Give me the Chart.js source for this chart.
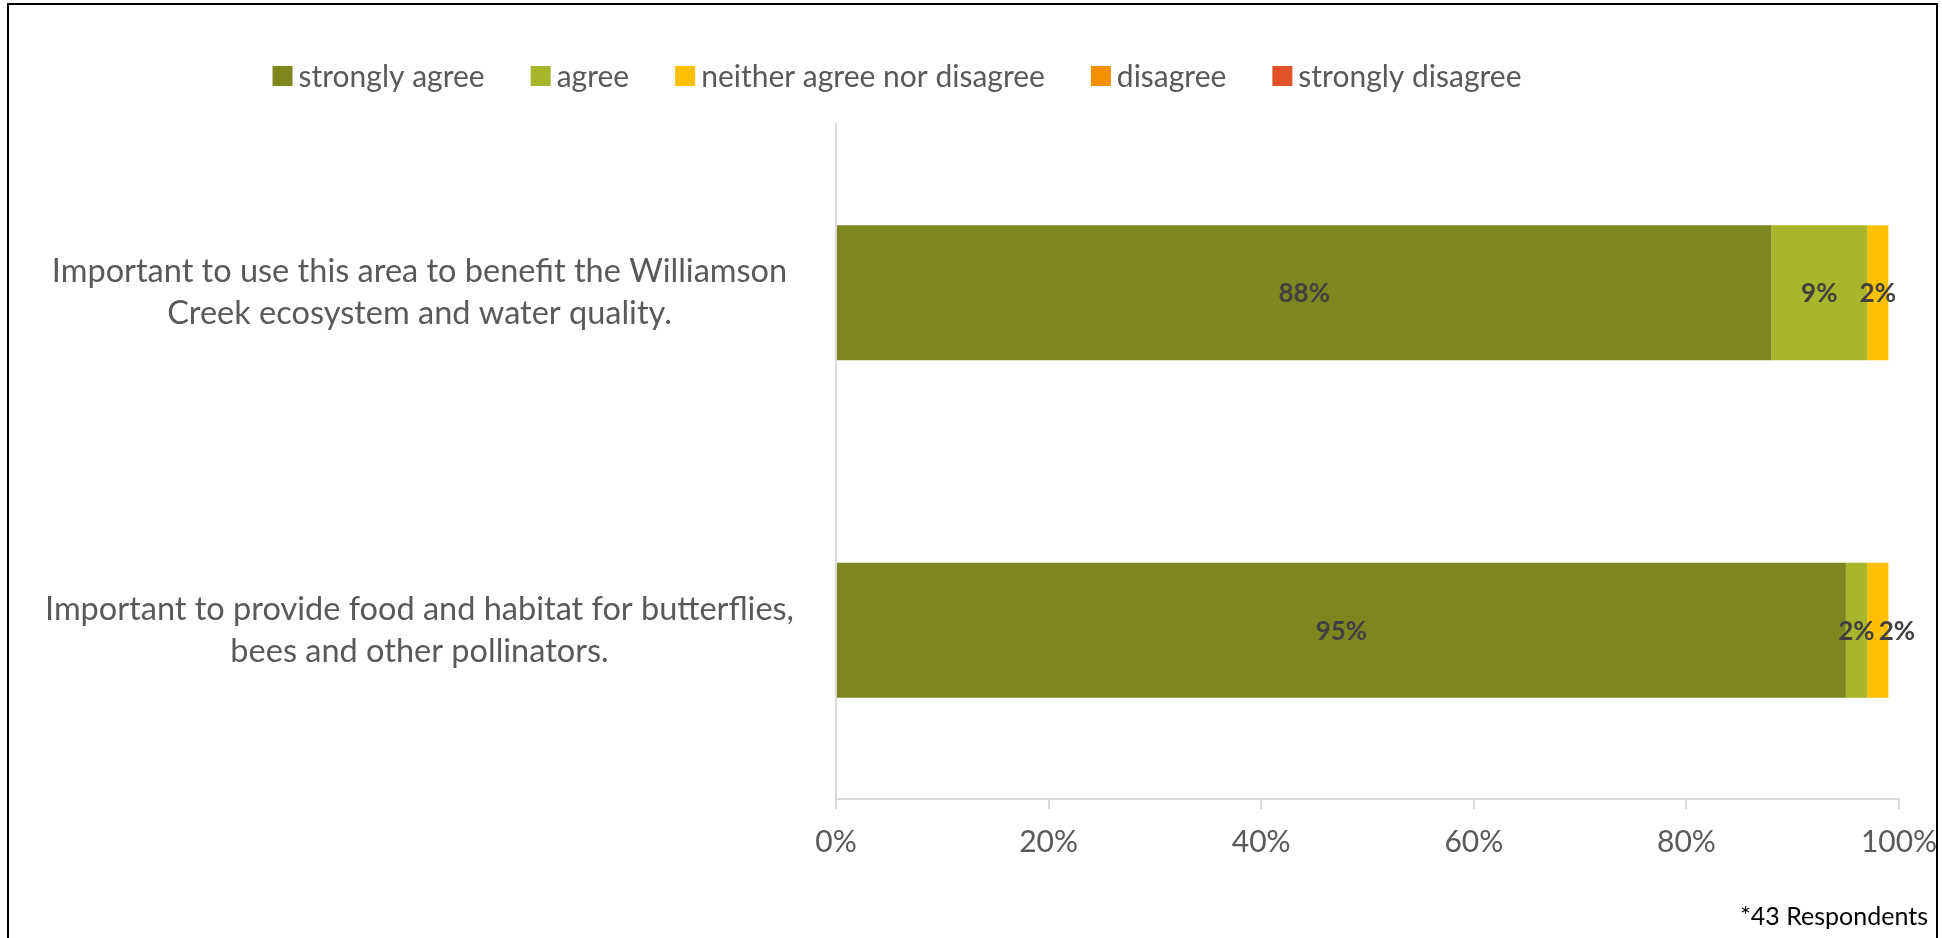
<!DOCTYPE html>
<html>
<head>
<meta charset="utf-8">
<title>Survey responses</title>
<script src="https://cdn.jsdelivr.net/npm/chart.js@4"></script>
<style>
    html, body { margin: 0; padding: 0; background: #ffffff; overflow: hidden; }
    #wrap { position: relative; width: 1942px; height: 938px; }
    /* moldura preta do gráfico (sem borda inferior visível) */
    #frame {
        position: absolute; left: 7px; top: 3px; width: 1931px; height: 980px;
        border: 2px solid #000; box-sizing: border-box; pointer-events: none;
    }
</style>
</head>
<body>
<div id="wrap">
    <canvas id="surveyChart" width="1942" height="938"></canvas>
    <div id="frame"></div>
</div>
<script>
// DADOS DO GRÁFICO

const categories = [
    ['Important to use this area to benefit the Williamson', 'Creek ecosystem and water quality.'],
    ['Important to provide food and habitat for butterflies,', 'bees and other pollinators.']
];
const seriesNames = ['strongly agree', 'agree', 'neither agree nor disagree', 'disagree', 'strongly disagree'];
const stronglyAgree = [88, 95];
const agree = [9, 2];
const neither = [2, 2];
const disagree = [0, 0];
const stronglyDisagree = [0, 0];
const seriesColors = ['#7E871F', '#A7B62A', '#FFC000', '#F59100', '#E2522A'];
const xTicks = [0, 20, 40, 60, 80, 100];
const footnote = '*43 Respondents';

const FONT = 'Lato';
const TEXT_GREY = '#595959';
const AXIS_GREY = '#D9D9D9';

// Rótulos de valor no centro de cada segmento.
// Quando dois rótulos se sobrepõem, o seguinte é empurrado para a direita.
const valueLabels = {
    id: 'valueLabels',
    afterDatasetsDraw(chart) {
        const ctx = chart.ctx;
        ctx.save();
        ctx.font = 'bold 26px ' + FONT;
        ctx.fillStyle = '#404040';
        ctx.textAlign = 'center';
        ctx.textBaseline = 'middle';
        const lastRight = {}; // borda direita do último rótulo em cada barra
        chart.data.datasets.forEach((ds, i) => {
            const meta = chart.getDatasetMeta(i);
            meta.data.forEach((bar, j) => {
                const v = ds.data[j];
                if (!v) return; // 0% não aparece
                const text = v + '%';
                const w = ctx.measureText(text).width;
                const p = bar.getCenterPoint();
                let x = p.x;
                if (lastRight[j] !== undefined && x - w / 2 < lastRight[j] + 4) {
                    x = lastRight[j] + 4 + w / 2;
                }
                ctx.fillText(text, x, p.y + 1);
                lastRight[j] = x + w / 2;
            });
        });
        ctx.restore();
    }
};

// Legenda no topo e nota de rodapé
const legendAndNote = {
    id: 'legendAndNote',
    afterDraw(chart) {
        const ctx = chart.ctx;
        ctx.save();
        ctx.font = '30px ' + FONT;
        const box = 20, gapText = 6, gapItem = 46;
        const items = chart.data.datasets.map(ds => ({
            text: ds.label,
            color: ds.backgroundColor,
            w: ctx.measureText(ds.label).width
        }));
        const total = items.reduce((s, it) => s + box + gapText + it.w, 0) + gapItem * (items.length - 1);
        let x = 897 - total / 2;
        const y = 76;
        ctx.textBaseline = 'middle';
        items.forEach(it => {
            ctx.fillStyle = it.color;
            ctx.fillRect(x, y - box / 2, box, box);
            ctx.fillStyle = TEXT_GREY;
            ctx.fillText(it.text, x + box + gapText, y + 1);
            x += box + gapText + it.w + gapItem;
        });

        // nota "*43 Respondents" no canto inferior direito
        ctx.font = '25px ' + FONT;
        ctx.fillStyle = '#000000';
        ctx.textAlign = 'right';
        ctx.textBaseline = 'alphabetic';
        ctx.fillText(footnote, 1928, 925);
        ctx.restore();
    }
};

const seriesValues = [stronglyAgree, agree, neither, disagree, stronglyDisagree];

const datasets = seriesNames.map((name, i) => ({
    label: name,
    data: seriesValues[i],
    backgroundColor: seriesColors[i],
    borderWidth: 0,
    barPercentage: 0.4,
    categoryPercentage: 1.0
}));

const ctx = document.getElementById('surveyChart').getContext('2d');

new Chart(ctx, {
    type: 'bar',
    data: { labels: categories, datasets: datasets },
    options: {
        indexAxis: 'y',
        responsive: false,
        animation: false,
        layout: { padding: { top: 124, right: 43, bottom: 63, left: 20 } },
        plugins: {
            legend: { display: false },
            tooltip: { enabled: false }
        },
        scales: {
            x: {
                stacked: true,
                min: 0,
                max: 100,
                afterBuildTicks: scale => { scale.ticks = xTicks.map(v => ({ value: v })); },
                // o rótulo "100%" pode ultrapassar a área; a margem fica no layout
                afterFit: scale => { scale.paddingLeft = 0; scale.paddingRight = 0; },
                grid: { drawOnChartArea: false, drawTicks: true, tickLength: 10, color: AXIS_GREY, lineWidth: 2 },
                border: { color: AXIS_GREY, width: 2 },
                ticks: {
                    color: TEXT_GREY,
                    font: { family: FONT, size: 30 },
                    padding: 15,
                    callback: v => v + '%'
                }
            },
            y: {
                stacked: true,
                grid: { display: false },
                border: { color: AXIS_GREY, width: 2 },
                afterFit: scale => { scale.width = 816; },
                ticks: {
                    crossAlign: 'center',
                    color: TEXT_GREY,
                    font: { family: FONT, size: 32.5, lineHeight: 1.29 },
                    padding: 34
                }
            }
        }
    },
    plugins: [valueLabels, legendAndNote]
});
</script>
</body>
</html>
